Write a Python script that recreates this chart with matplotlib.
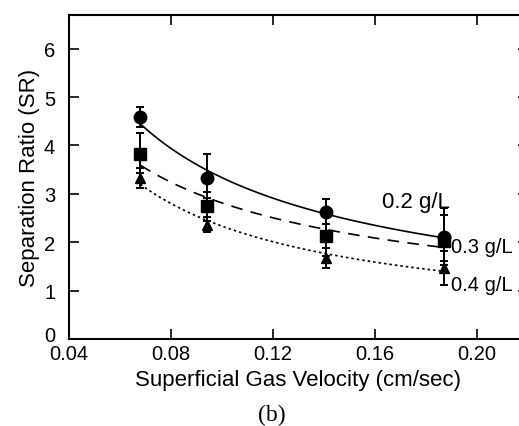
import numpy as np
import matplotlib
matplotlib.use("Agg")
import matplotlib.pyplot as plt
from matplotlib.transforms import ScaledTranslation

plt.rcParams['font.family'] = ['Liberation Sans', 'DejaVu Sans']

# superficial gas velocity (cm/sec)
velocity = [0.068, 0.094, 0.141, 0.187]

# separation ratio for each concentration
sr_02 = [4.58, 3.32, 2.62, 2.10]
sr_03 = [3.82, 2.74, 2.12, 2.02]
sr_04 = [3.33, 2.36, 1.67, 1.47]

# error bars (lower, upper)
err_02 = [[0.20, 0.40, 0.25, 0.50], [0.22, 0.51, 0.27, 0.60]]
err_03 = [[0.40, 0.30, 0.40, 0.50], [0.43, 0.30, 0.45, 0.55]]
err_04 = [[0.22, 0.16, 0.21, 0.36], [0.20, 0.15, 0.20, 0.35]]

labels = ["0.2 g/L", "0.3 g/L", "0.4 g/L"]


def power_fit(x, y):
    # trend curve through the points, y = a * x^b
    b, a = np.polyfit(np.log(x), np.log(y), 1)
    xs = np.linspace(min(x), max(x), 100)
    return xs, np.exp(a) * xs ** b


fig = plt.figure(figsize=(5.19, 4.27), dpi=100)
ax = fig.add_axes([0.133, 0.204, 0.884, 0.759])

series = [(sr_02, err_02, 'o', '-', 9),
          (sr_03, err_03, 's', (0, (7, 5)), 8.5),
          (sr_04, err_04, '^', (0, (1.5, 1.8)), 7.5)]

for y, err, mk, ls, ms in series:
    xs, ys = power_fit(velocity, y)
    ax.plot(xs, ys, color='black', linestyle=ls, linewidth=1.2)
    ax.errorbar(velocity, y, yerr=err, fmt=mk, color='black', markersize=ms,
                ecolor='black', elinewidth=1.4, capsize=3, capthick=1.4)

ax.text(0.1627, 2.85, labels[0], fontsize=16, ha='left', va='center')
ax.text(0.1898, 1.92, labels[1], fontsize=14.5, ha='left', va='center')
ax.text(0.1898, 1.13, labels[2], fontsize=14.5, ha='left', va='center')

ax.set_xlim(0.04, 0.22)
ax.set_ylim(0, 6.7)
ax.set_xticks([0.04, 0.08, 0.12, 0.16, 0.20])
ax.set_xticklabels(['0.04', '0.08', '0.12', '0.16', '0.20'])
ax.set_yticks([0, 1, 2, 3, 4, 5, 6])
ax.tick_params(direction='in', length=7, width=1.2, top=True, right=True,
               labelsize=14.5)
ax.tick_params(axis='y', pad=10)
ax.tick_params(axis='x', pad=4)
# lift the "0" a little, as in the scan it sits just above 0.04
lab0 = ax.get_yticklabels()[0]
lab0.set_transform(lab0.get_transform() + ScaledTranslation(0, 4 / 72, fig.dpi_scale_trans))
for sp in ax.spines.values():
    sp.set_linewidth(1.5)

ax.set_xlabel('Superficial Gas Velocity (cm/sec)', fontsize=16, labelpad=4)
ax.set_ylabel('Separation Ratio (SR)', fontsize=16, labelpad=3)

fig.text(0.524, 0.028, '(b)', fontsize=17, family='Liberation Serif',
         ha='center', va='center')

fig.savefig('out.png', dpi=100)
